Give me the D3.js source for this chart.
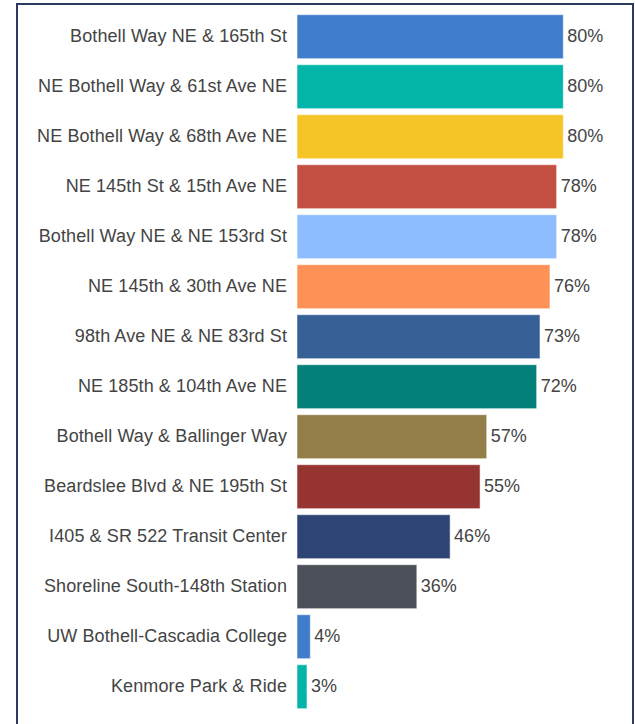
<!DOCTYPE html>
<html>
<head>
<meta charset="utf-8">
<script src="https://cdn.jsdelivr.net/npm/d3@7"></script>
<style>
  html, body { margin: 0; padding: 0; background: #fff; }
  svg { display: block; }
</style>
</head>
<body>
<div id="chart"></div>
<script>
const categories = [
  "Bothell Way NE & 165th St",
  "NE Bothell Way & 61st Ave NE",
  "NE Bothell Way & 68th Ave NE",
  "NE 145th St & 15th Ave NE",
  "Bothell Way NE & NE 153rd St",
  "NE 145th & 30th Ave NE",
  "98th Ave NE & NE 83rd St",
  "NE 185th & 104th Ave NE",
  "Bothell Way & Ballinger Way",
  "Beardslee Blvd & NE 195th St",
  "I405 & SR 522 Transit Center",
  "Shoreline South-148th Station",
  "UW Bothell-Cascadia College",
  "Kenmore Park & Ride"
];
const values = [80, 80, 80, 78, 78, 76, 73, 72, 57, 55, 46, 36, 4, 3];
const colors = [
  "#3f7ccc", "#03b5a9", "#f5c426", "#c44f43", "#8dbdfe", "#fe9156", "#365f95",
  "#03807a", "#937e49", "#953430", "#2d4475", "#4b5059", "#3f7ccc", "#03b5a9"
];

const W = 635, H = 724;
const svg = d3.select("#chart").append("svg").attr("width", W).attr("height", H);

svg.append("rect").attr("width", W).attr("height", H).attr("fill", "#fff");

// frame
svg.append("rect")
  .attr("x", 17).attr("y", 4)
  .attr("width", 616).attr("height", 740)
  .attr("fill", "#fff")
  .attr("stroke", "#2b3a5e")
  .attr("stroke-width", 2);

const y = d3.scaleBand()
  .domain(categories)
  .range([11.7, 711.7])
  .paddingInner(0.12)
  .paddingOuter(0.06);

const x = d3.scaleLinear().domain([0, 80]).range([297, 563.3]);

const data = categories.map((c, i) => ({ c, v: values[i], col: colors[i] }));

svg.append("g").selectAll("rect").data(data).join("rect")
  .attr("x", x(0))
  .attr("y", d => y(d.c))
  .attr("width", d => x(d.v) - x(0))
  .attr("height", y.bandwidth())
  .attr("fill", d => d.col)
  .attr("stroke", "rgba(255,255,255,0.55)")
  .attr("stroke-width", 1);

const yAxis = d3.axisLeft(y).tickSize(0).tickPadding(10);
const gy = svg.append("g").attr("transform", `translate(${x(0)},0)`).call(yAxis);
gy.select(".domain").remove();
gy.selectAll("text")
  .attr("font-family", "'Liberation Sans', Arial, sans-serif")
  .attr("font-size", 18)
  .attr("letter-spacing", "0.1px")
  .attr("fill", "#444444");

svg.append("g").selectAll("text").data(data).join("text")
  .attr("x", d => x(d.v) + 4)
  .attr("y", d => y(d.c) + y.bandwidth() / 2)
  .attr("dy", "0.32em")
  .attr("font-family", "'Liberation Sans', Arial, sans-serif")
  .attr("font-size", 18)
  .attr("fill", "#444444")
  .text(d => d.v + "%");
</script>
</body>
</html>
